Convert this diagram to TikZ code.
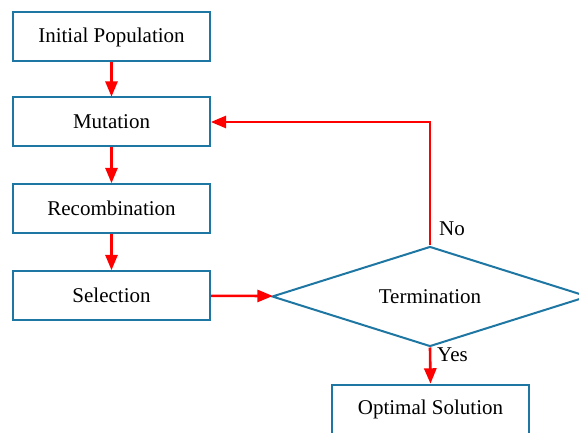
\documentclass[tikz,border=0pt]{standalone}
\usepackage{xcolor}
\usepackage{fontspec}
\setmainfont{Liberation Serif}
\usepackage{tikz}
\usetikzlibrary{shapes,arrows,positioning,calc}
\definecolor{flowblue}{RGB}{30,118,162}
\definecolor{flowred}{RGB}{255,0,0}

\begin{document}
\begin{tikzpicture}[
    x=1pt, y=-1pt,
    box/.style={rectangle, draw=flowblue, line width=2pt, fill=white,
                minimum width=197pt, minimum height=49pt, inner sep=0pt,
                text centered, font=\fontsize{21}{24}\selectfont},
    decision/.style={diamond, draw=flowblue, line width=2pt, fill=white,
                minimum width=316pt, minimum height=100pt, aspect=3.16, inner sep=0pt,
                font=\fontsize{21}{24}\selectfont},
    tag/.style={anchor=west, inner sep=0pt, font=\fontsize{21}{24}\selectfont},
    arrow/.style={->, line width=2.6pt, draw=flowred, >=triangle 45}
]
\path[use as bounding box, clip] (0,0) rectangle (579,433);

% Main loop
\node[box] (init) at (111.5, 37) {Initial Population};
\node[box] (mut) at (111.5, 122) {Mutation};
\node[box] (recomb) at (111.5, 208.5) {Recombination};
\node[box] (sel) at (111.5, 295.5) {Selection};

% Decision and result
\node[decision] (term) at (430, 296.5) {Termination};
\node[box] (opt) at (430.5, 409) {Optimal Solution};

\node[tag] (no) at (439, 229) {No};
\node[tag] (yes) at (437, 355) {Yes};

\draw[arrow] (init) -- (mut);
\draw[arrow] (mut) -- (recomb);
\draw[arrow] (recomb) -- (sel);
\draw[arrow] (sel) -- (term);
\draw[arrow] (term.north) |- (mut.east);
\draw[arrow] (term.south) -- (opt.north);

\end{tikzpicture}
\end{document}
